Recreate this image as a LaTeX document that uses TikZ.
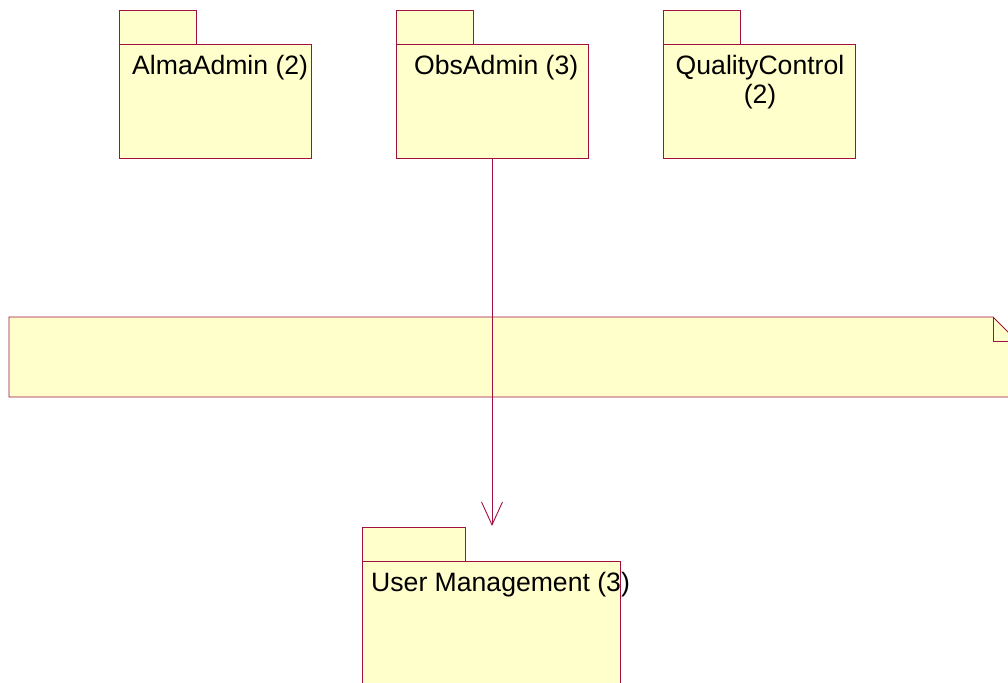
\documentclass[tikz,border=0pt]{standalone}
\usepackage{fontspec}
\setmainfont{Liberation Sans}
\usetikzlibrary{arrows.meta}
\definecolor{pkgfill}{RGB}{255,255,204}
\definecolor{pkgline}{RGB}{160,16,64}
\begin{document}
\begin{tikzpicture}[x=1pt,y=-1pt,
  box/.style={draw=pkgline,fill=pkgfill,line width=0.9pt,inner sep=0pt,outer sep=0pt,anchor=north west},
  tab/.style={box,minimum width=77pt,minimum height=34pt},
  body/.style={box,minimum width=192pt,minimum height=114pt},
  pkgtext/.style={font=\fontsize{26.6}{29.5}\selectfont,inner sep=0pt,text=black},
  notebox/.style={draw=pkgline,fill=pkgfill,line width=0.9pt,line join=miter},
  dep/.style={draw=pkgline,line width=0.9pt,-{Straight Barb[length=23pt,width=21pt,line width=0.9pt]}}]
\useasboundingbox (0,0) rectangle (1008,682);
\clip (0,0) rectangle (1008,682);

% packages, top row
\node[tab] (almatab) at (119,10) {};
\node[body] (alma) at (119,44) {};
\node[pkgtext,anchor=base west] (almatext) at (132,74.5) {AlmaAdmin (2)};

\node[tab] (obstab) at (396,10) {};
\node[body] (obs) at (396,44) {};
\node[pkgtext,anchor=base west] (obstext) at (414,74.5) {ObsAdmin (3)};

\node[tab] (qctab) at (663,10) {};
\node[body] (qc) at (663,44) {};
\node[pkgtext,anchor=north,align=center] (qctext) at (760,55) {QualityControl\\(2)};

% note with folded corner
\path[notebox] (9,317) -- (993,317) -- (1017,341) -- (1017,397) -- (9,397) -- cycle;
\draw[notebox,fill=none] (993,317) -- (993,341) -- (1017,341);
\coordinate (notecorner) at (993,317);

% package, bottom
\node[tab,minimum width=103pt] (umtab) at (362,527) {};
\node[body,minimum width=258pt,minimum height=140pt] (um) at (362,561) {};
\node[pkgtext,anchor=base west] (umtext) at (371,591) {User Management (3)};

% dependency
\coordinate (deptip) at (492,526);
\draw[dep] (obs.south) -- (deptip);
\end{tikzpicture}
\end{document}
